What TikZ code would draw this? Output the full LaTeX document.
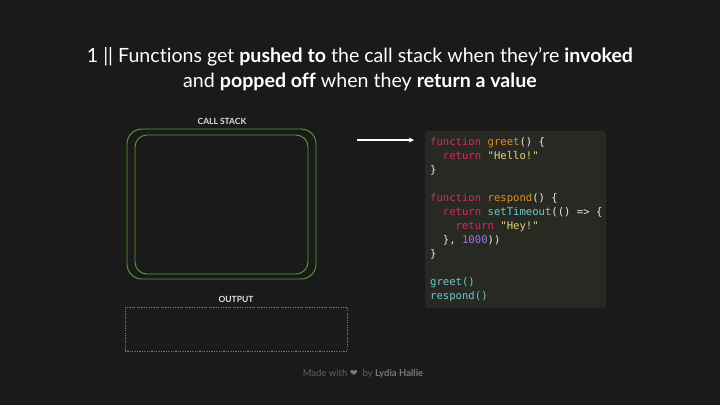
\documentclass[tikz,border=0pt]{standalone}
\usepackage{fontspec}
\setmainfont{Lato}[Ligatures=NoCommon]
\newfontfamily\codefont{DejaVu Sans Mono}
\newfontfamily\symfont{DejaVu Sans}
\usetikzlibrary{positioning, arrows}
\definecolor{bgcol}{HTML}{1A1A1A}
\definecolor{stackgreen}{HTML}{58A333}
\definecolor{codebg}{HTML}{282923}
\definecolor{kwpink}{HTML}{D9286A}
\definecolor{fnorange}{HTML}{E38D2B}
\definecolor{stryellow}{HTML}{E2D677}
\definecolor{callcyan}{HTML}{6FC8CD}
\definecolor{numpurple}{HTML}{A073E6}
\definecolor{plain}{HTML}{E8E8E2}
\definecolor{dimgray}{HTML}{7A7A7A}
\tikzstyle{stackbox} = [rectangle, draw=stackgreen, line width=0.9pt]
\tikzstyle{label} = [font=\bfseries\fontsize{8.5}{10}\selectfont, text=white!88!black, inner sep=0pt]
\tikzstyle{outbox} = [rectangle, draw=dimgray, line width=0.7pt, dash pattern=on 1.2pt off 1.2pt, minimum width=222pt, minimum height=44pt]
\tikzstyle{codepanel} = [rectangle, rounded corners=3pt, fill=codebg, minimum width=181pt, minimum height=177pt]
\tikzstyle{arrow} = [line width=1.3pt, white, ->, >=stealth]
\newcommand{\kw}[1]{\textcolor{kwpink}{#1}}
\newcommand{\fn}[1]{\textcolor{fnorange}{#1}}
\newcommand{\str}[1]{\textcolor{stryellow}{#1}}
\newcommand{\cl}[1]{\textcolor{callcyan}{#1}}
\newcommand{\num}[1]{\textcolor{numpurple}{#1}}
\begin{document}
\begin{tikzpicture}[x=1pt, y=-1pt]
  \fill [bgcol] (0,0) rectangle (720,405);
  \useasboundingbox (0,0) rectangle (720,405);

  \node (TITLE) [align=center, text=white, font=\fontsize{19.6}{25}\selectfont] at (360,69.5)
    {1 || Functions get \textbf{pushed to} the call stack when they’re \textbf{invoked}\\
     and \textbf{popped off} when they \textbf{return a value}};

  \node (OUTER) [stackbox, rounded corners=15pt, minimum width=189pt, minimum height=150pt] at (221.5,204) {};
  \node (INNER) [stackbox, rounded corners=12pt, minimum width=173pt, minimum height=139pt] at (221.5,204.5) {};
  \node (STACKLBL) [label] at (222,121) {CALL STACK};

  \node (OUTBOX) [outbox] at (236,329) {};
  \node (OUTLBL) [label] at (236,299) {OUTPUT};

  \node (CODE) [codepanel] at (515.5,219.5) {};
  \node (SRC) [anchor=north west, inner sep=0pt, align=left, text=plain,
    font=\codefont\fontsize{10.6}{14}\selectfont] at (430,137.5)
    {\kw{function} \fn{greet}() \{\\
     \ \ \kw{return} \str{"Hello!"}\\
     \}\\
     \mbox{}\\
     \kw{function} \fn{respond}() \{\\
     \ \ \kw{return} \cl{setTimeout}(() => \{\\
     \ \ \ \ \kw{return} \str{"Hey!"}\\
     \ \ \}, \num{1000}))\\
     \}\\
     \mbox{}\\
     \cl{greet()}\\
     \cl{respond()}};

  \coordinate (ARRS) at (357,140);
  \coordinate (ARRE) at (414,140);
  \draw [arrow] (ARRS) -- (ARRE);

  \node (FOOT) [font=\fontsize{9.5}{11}\selectfont, text=dimgray!80!black] at (363,374)
    {Made with \textcolor{dimgray}{\symfont ❤}\ \ by \textbf{\textcolor{dimgray}{Lydia Hallie}}};
\end{tikzpicture}
\end{document}
